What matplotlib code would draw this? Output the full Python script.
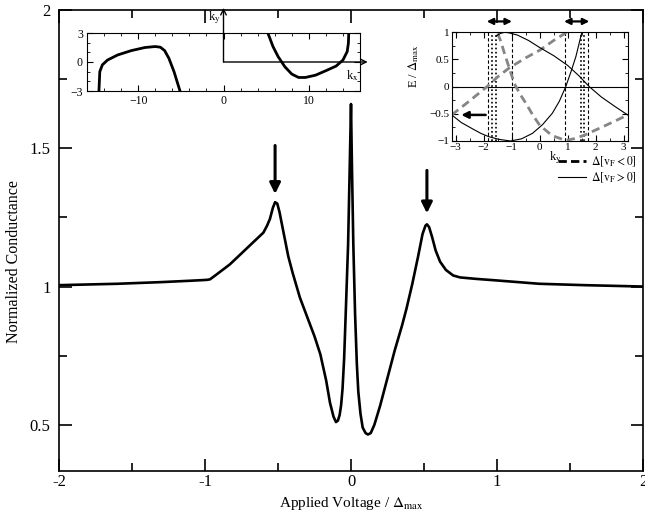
import matplotlib.pyplot as plt
from matplotlib.lines import Line2D
import numpy as np

plt.rcParams['font.family'] = ['Liberation Serif', 'DejaVu Serif']
plt.rcParams['mathtext.fontset'] = 'stix'

# main tunnelling spectrum
bias = [-2.0, -1.6, -1.3, -1.1, -0.99, -0.966, -0.93, -0.88, -0.83, -0.76, -0.69,
        -0.64, -0.60, -0.575, -0.555, -0.535, -0.52, -0.505, -0.49, -0.46, -0.43,
        -0.40, -0.35, -0.30, -0.25, -0.21, -0.17, -0.144, -0.12, -0.103, -0.09,
        -0.078, -0.068, -0.058, -0.047, -0.035, -0.02, -0.008, 0.0, 0.006, 0.016,
        0.028, 0.04, 0.05, 0.065, 0.08, 0.10, 0.116, 0.135, 0.16, 0.20, 0.25,
        0.30, 0.35, 0.38, 0.42, 0.46, 0.49, 0.51, 0.52, 0.535, 0.555, 0.58, 0.61,
        0.65, 0.70, 0.747, 0.85, 1.0, 1.29, 1.6, 2.0]
conductance = [1.005, 1.01, 1.016, 1.021, 1.024, 1.026, 1.04, 1.06, 1.08, 1.115, 1.15,
               1.175, 1.195, 1.22, 1.245, 1.285, 1.305, 1.30, 1.27, 1.19, 1.11,
               1.05, 0.96, 0.89, 0.82, 0.755, 0.66, 0.58, 0.53, 0.51, 0.515,
               0.535, 0.57, 0.63, 0.74, 0.92, 1.15, 1.45, 1.66, 1.45, 1.15,
               0.90, 0.72, 0.62, 0.54, 0.49, 0.47, 0.465, 0.47, 0.50, 0.57, 0.67,
               0.77, 0.86, 0.92, 1.01, 1.11, 1.19, 1.22, 1.225, 1.215, 1.18, 1.13, 1.09,
               1.06, 1.04, 1.033, 1.028, 1.022, 1.01, 1.005, 1.0]

peak_x = [-0.52, 0.52]
arrow_top = [1.51, 1.42]
arrow_tip = [1.335, 1.265]

# Fermi surface pockets
left_kx = [-14.6, -14.55, -14.5, -14.2, -13.6, -12.4, -10.8, -9.2, -8.0, -7.4, -6.9,
           -6.4, -5.8, -5.1]
left_ky = [-3.0, -2.0, -1.0, -0.3, 0.2, 0.73, 1.18, 1.5, 1.6, 1.53, 1.18,
           0.38, -1.0, -3.0]
right_kx = [5.2, 5.8, 6.4, 7.2, 8.0, 8.8, 9.6, 10.8, 12.0, 13.2, 14.0, 14.5,
            14.64, 14.68]
right_ky = [3.0, 1.6, 0.56, -0.5, -1.25, -1.6, -1.6, -1.36, -0.9, -0.42, 0.2,
            1.08, 1.95, 3.0]

# bound-state dispersions E(k_y)
ky_pos_a = [-3.14, -2.8, -2.42, -2.1, -1.82, -1.45, -1.04, -0.65, -0.26, 0.1, 0.45,
            0.7, 0.93, 1.12, 1.29, 1.4, 1.47, 1.5]
e_pos_a = [-0.52, -0.66, -0.77, -0.86, -0.92, -0.97, -1.0, -0.96, -0.86, -0.70, -0.49,
           -0.27, 0.0, 0.28, 0.55, 0.78, 0.93, 0.98]
ky_pos_b = [-1.55, -1.4, -1.25, -1.1, -0.8, -0.4, 0.0, 0.5, 1.0, 1.4, 1.77, 2.2,
            2.7, 3.14]
e_pos_b = [0.93, 0.98, 1.0, 0.99, 0.95, 0.85, 0.72, 0.57, 0.39, 0.20, 0.0, -0.19,
           -0.37, -0.52]
ky_neg_a = [-3.14, -2.5, -1.88, -1.5, -1.1, -0.5, 0.0, 0.5, 0.93, 1.0]
e_neg_a = [-0.52, -0.26, 0.0, 0.18, 0.34, 0.53, 0.67, 0.85, 0.99, 1.0]
ky_neg_b = [-1.5, -1.4, -1.25, -1.04, -0.9, -0.7, -0.5, -0.25, 0.0, 0.44, 0.93,
            1.3, 1.65, 2.2, 2.7, 3.14]
e_neg_b = [0.98, 0.85, 0.6, 0.27, 0.05, -0.14, -0.3, -0.52, -0.71, -0.9, -0.99,
           -0.95, -0.88, -0.75, -0.63, -0.52]
dashed_ky = [-1.85, -1.0, 0.92, 1.71]
dotted_ky = [-1.70, -1.57, 1.47, 1.59]
span_ky = [(-1.89, -0.99), (0.87, 1.77)]

W, H = 645, 514
fig = plt.figure(figsize=(W / 100, H / 100), dpi=100)

ax = fig.add_axes([59 / W, 1 - 471 / H, 584 / W, 461 / H])
ax.plot(bias, conductance, color='black', lw=1.9)
ax.set_xlim(-2, 2)
ax.set_ylim(0.333, 2.0)
ax.set_xticks([-2, -1, 0, 1, 2])
ax.set_xticklabels(['-2', '-1', '0', '1', '2'])
ax.set_xticks([-1.5, -0.5, 0.5, 1.5], minor=True)
ax.set_yticks([0.5, 1, 1.5, 2])
ax.set_yticklabels(['0.5', '1', '1.5', '2'])
ax.set_yticks([0.75, 1.25, 1.75], minor=True)
ax.tick_params(which='both', direction='in', top=True, right=True, width=1.2, labelsize=12)
ax.tick_params(which='major', length=9)
ax.tick_params(axis='x', which='major', pad=2)
ax.tick_params(axis='y', which='major', pad=6)
ax.tick_params(which='minor', length=6)
for s in ax.spines.values():
    s.set_linewidth(1.2)
fig.text(351 / W, 1 - 504 / H, r'Applied Voltage / $\Delta_{\rm max}$', fontsize=11,
         ha='center', va='center')
fig.text(14 / W, 1 - 262 / H, 'Normalized Conductance', fontsize=11.5, rotation=90,
         ha='center', va='center')

for x, y0, y1 in zip(peak_x, arrow_top, arrow_tip):
    ax.annotate('', xy=(x, y1), xytext=(x, y0),
                arrowprops=dict(arrowstyle='-|>', lw=2.2, color='black',
                                mutation_scale=16, shrinkA=0, shrinkB=0))

# inset: Fermi surface
ax1 = fig.add_axes([87 / W, 1 - 91 / H, 273 / W, 58 / H])
ax1.plot(left_kx, left_ky, color='black', lw=2)
ax1.plot(right_kx, right_ky, color='black', lw=2)
ax1.set_xlim(-16, 16)
ax1.set_ylim(-3, 3)
ax1.set_xticks([-10, 0, 10])
ax1.set_xticklabels(['\u221210', '0', '10'])
ax1.set_xticks(np.arange(-16, 17, 2), minor=True)
ax1.set_yticks([-3, 0, 3])
ax1.set_yticklabels(['\u22123', '0', '3'])
ax1.set_yticks([-2, -1, 1, 2], minor=True)
ax1.tick_params(which='both', direction='in', top=True, right=True, labelsize=8.5, pad=3)
ax1.tick_params(which='major', length=4)
ax1.tick_params(which='minor', length=2.5)
ax1.annotate('', xy=(16.9, 0), xytext=(0, 0), annotation_clip=False,
             arrowprops=dict(arrowstyle='->', lw=1.0, color='black', shrinkA=0, shrinkB=0))
ax1.annotate('', xy=(0, 5.6), xytext=(0, 0), annotation_clip=False,
             arrowprops=dict(arrowstyle='->', lw=1.0, color='black', shrinkA=0, shrinkB=0))
ax1.text(-0.3, 4.6, r'k$_\mathrm{y}$', ha='right', va='center', fontsize=9)
ax1.text(15.1, -1.4, r'k$_\mathrm{x}$', ha='center', va='center', fontsize=9)

# inset: Andreev bound states
ax2 = fig.add_axes([451.7 / W, 1 - 141 / H, 176 / W, 108.7 / H])
ax2.axhline(0, color='black', lw=0.8)
for k in dashed_ky:
    ax2.axvline(k, color='black', lw=0.8, ls=(0, (3, 2)))
for k in dotted_ky:
    ax2.axvline(k, color='black', lw=1.2, ls=(0, (1, 1.5)))
grey = '#858585'
ax2.plot(ky_neg_a, e_neg_a, color=grey, lw=2, ls=(0, (3, 1.8)))
ax2.plot(ky_neg_b, e_neg_b, color=grey, lw=2, ls=(0, (3, 1.8)))
ax2.plot(ky_pos_a, e_pos_a, color='black', lw=0.8)
ax2.plot(ky_pos_b, e_pos_b, color='black', lw=0.8)
ax2.set_xlim(-np.pi, np.pi)
ax2.set_ylim(-1, 1)
ax2.set_xticks([-3, -2, -1, 0, 1, 2, 3])
ax2.set_xticklabels(['\u22123', '\u22122', '\u22121', '0', '1', '2', '3'])
ax2.set_xticks(np.arange(-3, 3.1, 0.5), minor=True)
ax2.set_yticks([-1, -0.5, 0, 0.5, 1])
ax2.set_yticklabels(['\u22121', '\u22120.5', '0', '0.5', '1'])
ax2.set_yticks(np.arange(-1, 1.01, 0.25), minor=True)
ax2.tick_params(which='both', direction='in', top=True, right=True, labelsize=8, pad=1.5)
ax2.tick_params(which='major', length=4)
ax2.tick_params(which='minor', length=2.5)
fig.text(414 / W, 1 - 66 / H, r'E / $\Delta_{\rm max}$', fontsize=9, rotation=90,
         ha='center', va='center')
ax2.text(0.59, -0.075, r'k$_\mathrm{y}$', transform=ax2.transAxes, ha='center', va='top',
         fontsize=9)
for k0, k1 in span_ky:
    ax2.annotate('', xy=(k1, 1.2), xytext=(k0, 1.2), annotation_clip=False,
                 arrowprops=dict(arrowstyle='<|-|>', lw=1.6, color='black',
                                 mutation_scale=9, shrinkA=0, shrinkB=0))
ax2.annotate('', xy=(-2.8, -0.52), xytext=(-1.93, -0.52),
             arrowprops=dict(arrowstyle='-|>', lw=1.8, color='black',
                             mutation_scale=10, shrinkA=0, shrinkB=0))

handles = [Line2D([], [], color='black', lw=2, ls=(0, (3, 1.5))),
           Line2D([], [], color='black', lw=0.8)]
labels = [r'$\Delta[\mathrm{v_F} < 0]$', r'$\Delta[\mathrm{v_F} > 0]$']
fig.legend(handles, labels, loc='upper left', bbox_to_anchor=(558 / W, 1 - 154 / H),
           frameon=False, fontsize=8.5, handlelength=2.4, handletextpad=0.4,
           labelspacing=0.15, borderaxespad=0, borderpad=0)

fig.savefig('out.png', dpi=100)
